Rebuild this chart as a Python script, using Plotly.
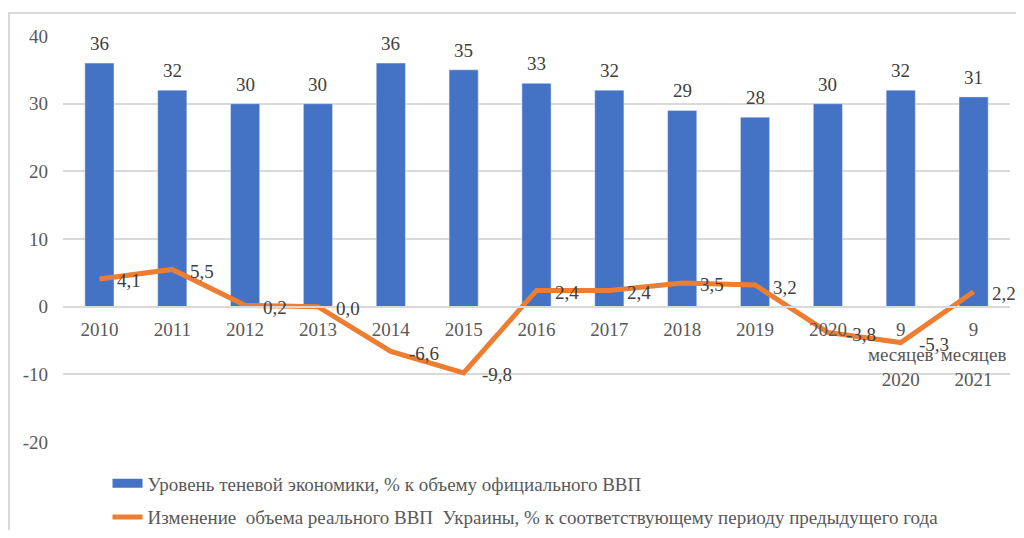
import plotly.graph_objects as go

categories = ["2010", "2011", "2012", "2013", "2014", "2015", "2016", "2017",
              "2018", "2019", "2020", "9<br>месяцев<br>2020", "9<br>месяцев<br>2021"]
shadow_economy = [36, 32, 30, 30, 36, 35, 33, 32, 29, 28, 30, 32, 31]
gdp_change = [4.1, 5.5, 0.2, 0.0, -6.6, -9.8, 2.4, 2.4, 3.5, 3.2, -3.8, -5.3, 2.2]
y_ticks = [-20, -10, 0, 10, 20, 30, 40]

bar_name = "Уровень теневой экономики, % к объему официального ВВП"
line_name = "Изменение  объема реального ВВП  Украины, % к соответствующему периоду предыдущего года"

BLUE = "#4472C4"
ORANGE = "#ED7D31"
FONT = "Liberation Serif"
GRID = "#D9D9D9"
TXT = "#595959"
LBL = "#404040"
FS = 19

fig = go.Figure()
fig.add_trace(go.Bar(
    x=categories, y=shadow_economy, marker_color=BLUE, showlegend=False,
    name=bar_name,
))
fig.add_trace(go.Scatter(
    x=categories, y=gdp_change, mode="lines",
    line=dict(color=ORANGE, width=5), showlegend=False, name=line_name,
))
# legend-only entries
fig.add_trace(go.Scatter(x=[None], y=[None], mode="lines", name=bar_name,
                         line=dict(color=BLUE, width=9), legendgroup="a"))
fig.add_trace(go.Scatter(x=[None], y=[None], mode="lines", name=line_name,
                         line=dict(color=ORANGE, width=5), legendgroup="b"))

annotations = []
for i, v in enumerate(shadow_economy):
    annotations.append(dict(x=i, y=v, xref="x", yref="y", text=str(v),
                            showarrow=False, yanchor="bottom", yshift=7,
                            font=dict(family=FONT, size=FS, color=LBL)))
for i, v in enumerate(gdp_change):
    annotations.append(dict(x=i, y=v, xref="x", yref="y",
                            text=f"{v:.1f}".replace(".", ","),
                            showarrow=False, xanchor="left", yanchor="middle",
                            xshift=16, yshift=-2,
                            font=dict(family=FONT, size=FS, color=LBL)))

W, H = 1008, 522
L, R, T, B = 55, 6, 28, 88
pw, ph = W - L - R, H - T - B

fig.update_layout(
    width=W, height=H,
    margin=dict(l=L, r=R, t=T, b=B, autoexpand=False),
    paper_bgcolor="white", plot_bgcolor="white",
    font=dict(family=FONT, size=FS, color=TXT),
    bargap=0.6,
    xaxis=dict(type="category", anchor="free", position=1/3, showline=True,
               range=[-0.5, len(categories) - 0.5],
               linecolor=GRID, linewidth=1.5, showgrid=False, ticks="",
               ticklabelstandoff=6,
               tickfont=dict(family=FONT, size=FS, color=TXT)),
    yaxis=dict(range=[-20, 40], tickvals=y_ticks, ticktext=[str(t) for t in y_ticks],
               showgrid=True, gridcolor=GRID,
               gridwidth=1.5, zeroline=False, ticks="", ticklabelstandoff=14,
               tickfont=dict(family=FONT, size=FS, color=TXT)),
    legend=dict(x=0.047, y=-0.055, xanchor="left", yanchor="top",
                traceorder="grouped", tracegroupgap=6,
                font=dict(family=FONT, size=FS, color=TXT),
                bgcolor="rgba(0,0,0,0)"),
    annotations=annotations,
    shapes=[dict(type="rect", xref="paper", yref="paper",
                 x0=(1 - L) / pw, x1=1.1, y0=-0.5, y1=(T + ph - 5) / ph,
                 line=dict(color=GRID, width=2), fillcolor="rgba(0,0,0,0)",
                 layer="below")],
)

fig.write_html("out.html")
